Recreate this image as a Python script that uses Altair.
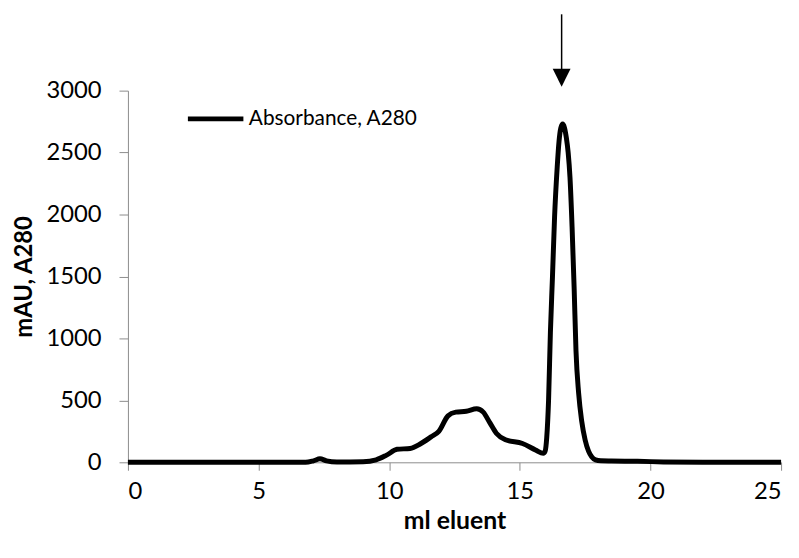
import altair as alt
import pandas as pd

# Chromatogram trace (ml eluent vs mAU at 280 nm)
ml = [0, 2, 4, 6, 6.8, 7.1, 7.35, 7.6, 8.0, 9.0, 9.5, 9.9, 10.3, 10.8, 11.2, 11.6,
      11.9, 12.25, 12.55, 12.95, 13.35, 13.6, 13.85, 14.1, 14.45, 15.1, 15.6, 15.9,
      15.97, 16.03, 16.1, 16.17, 16.25, 16.33, 16.43, 16.5, 16.57, 16.64, 16.71,
      16.78, 16.85, 16.92, 17.0, 17.08, 17.15, 17.25, 17.37, 17.5, 17.63, 17.75,
      17.9, 18.1, 18.5, 19.5, 20.5, 22, 25]
mau = [0, 0, 0, 0, 0, 12, 28, 12, 3, 5, 20, 58, 105, 112, 150, 205,
       250, 375, 405, 412, 432, 405, 320, 235, 182, 152, 100, 72,
       90, 200, 500, 1047, 1500, 1980, 2380, 2590, 2700, 2730, 2700,
       2620, 2500, 2300, 1900, 1400, 900, 560, 330, 180, 90, 45,
       20, 12, 10, 8, 3, 0, 0]
series_name = "Absorbance, A280"

x_ticks = [0, 5, 10, 15, 20, 25]
y_ticks = [0, 500, 1000, 1500, 2000, 2500, 3000]

# Arrow marking the main peak
arrow_x = [16.6]
arrow_top = [3616]
arrow_shaft_end = [3150]
arrow_head_y = [3104]

FONT = "Lato"

df = pd.DataFrame({"ml": ml, "mau": mau, "series": [series_name] * len(ml)})
arrow_df = pd.DataFrame({"x": arrow_x, "y1": arrow_top, "y2": arrow_shaft_end, "yh": arrow_head_y})

x_scale = alt.Scale(domain=[0, 25], nice=False)
y_scale = alt.Scale(domain=[0, 3000], nice=False)

x_axis = alt.Axis(values=x_ticks, format="d", title="ml eluent", grid=False,
                  domainColor="#8c8c8c", tickColor="#8c8c8c", tickSize=8, labelPadding=10,
                  labelFontSize=24, labelFont=FONT, labelColor="black", titleFont=FONT,
                  titleFontSize=25, titleFontWeight="bold", titleColor="black",
                  titleBaseline="alphabetic", titleY=67)
y_axis = alt.Axis(values=y_ticks, format="d", title="mAU, A280", grid=False,
                  domainColor="#8c8c8c", tickColor="#8c8c8c", tickSize=9, labelPadding=18,
                  labelFontSize=24, labelFont=FONT, labelColor="black", titleFont=FONT,
                  titleFontSize=24, titleFontWeight="bold", titleColor="black",
                  titleAngle=-90, titleBaseline="alphabetic", titleX=-97, titleY=187.5)

line = alt.Chart(df).mark_line(strokeWidth=5, interpolate="monotone", clip=False).encode(
    x=alt.X("ml:Q", scale=x_scale, axis=x_axis),
    y=alt.Y("mau:Q", scale=y_scale, axis=y_axis),
    color=alt.Color("series:N", scale=alt.Scale(range=["black"]),
                    legend=alt.Legend(title=None, orient="none", legendX=58, legendY=-2,
                                      symbolType="stroke", symbolSize=3136,
                                      symbolStrokeWidth=5, labelFont=FONT, labelLimit=0,
                                      labelFontSize=21, labelColor="black", labelOffset=3)),
)

shaft = alt.Chart(arrow_df).mark_rule(color="black", strokeWidth=1.5, clip=False).encode(
    x=alt.X("x:Q", scale=x_scale), y=alt.Y("y1:Q", scale=y_scale), y2="y2:Q")
head = alt.Chart(arrow_df).mark_point(shape="M-1,-1L1,-1L0,1Z", filled=True, color="black",
                                      size=324, opacity=1, clip=False).encode(
    x=alt.X("x:Q", scale=x_scale), y=alt.Y("yh:Q", scale=y_scale))

chart = alt.layer(line, shaft, head).properties(
    width=659, height=375,
    autosize=alt.AutoSizeParams(type="none"),
    padding={"left": 121, "top": 81, "right": 10, "bottom": 75},
    background="white",
).configure_view(stroke=None)

chart.save("out.html", embed_options={"renderer": "svg", "actions": False})
